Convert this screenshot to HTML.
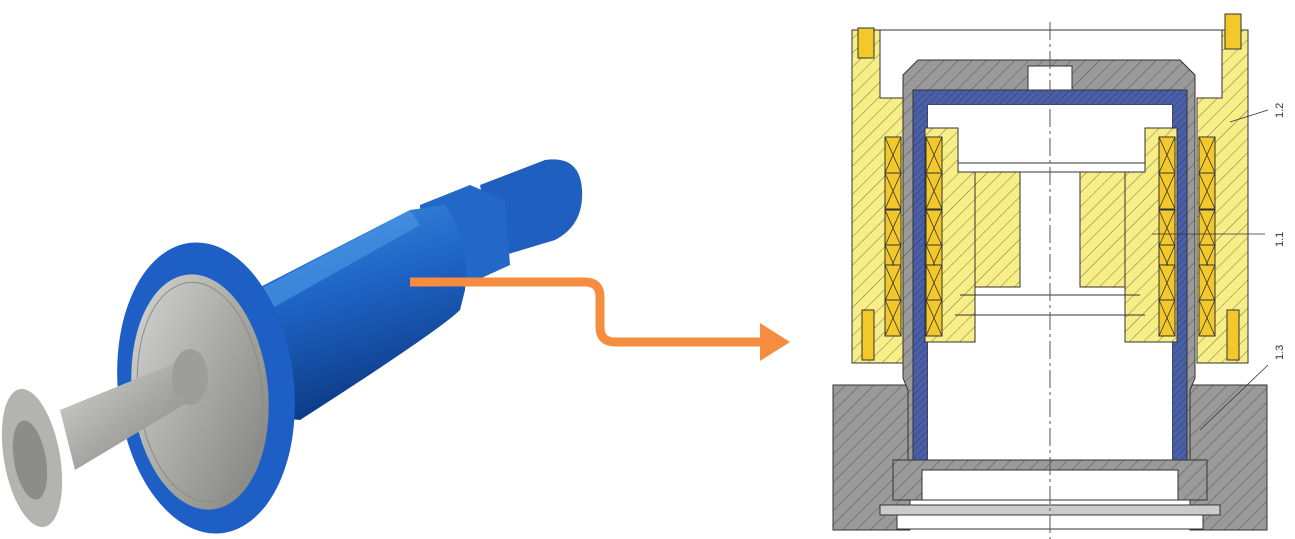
<!DOCTYPE html>
<html><head><meta charset="utf-8"><style>
html,body{margin:0;padding:0;background:#fff;width:1295px;height:539px;overflow:hidden}
svg{display:block}
</style></head><body>
<svg width="1295" height="539" viewBox="0 0 1295 539" xmlns="http://www.w3.org/2000/svg">
<defs>
<pattern id="hy" width="10" height="10" patternUnits="userSpaceOnUse" patternTransform="rotate(45)"><rect width="10" height="10" fill="#f7ee86"/><line x1="0" y1="0" x2="0" y2="10" stroke="#555" stroke-width="0.8"/></pattern>
<pattern id="hg" width="10" height="10" patternUnits="userSpaceOnUse" patternTransform="rotate(45)"><rect width="10" height="10" fill="#9a9a9a"/><line x1="0" y1="0" x2="0" y2="10" stroke="#444" stroke-width="0.8"/></pattern>
<pattern id="hb" width="5" height="5" patternUnits="userSpaceOnUse" patternTransform="rotate(45)"><rect width="5" height="5" fill="#4a5fa8"/><line x1="0" y1="0" x2="0" y2="5" stroke="#223" stroke-width="0.6"/></pattern>
<linearGradient id="bl" x1="0" y1="0" x2="0.3" y2="1"><stop offset="0" stop-color="#3d8ee0"/><stop offset="0.5" stop-color="#1e63c4"/><stop offset="1" stop-color="#0d3b86"/></linearGradient>
<linearGradient id="sv" x1="0" y1="0" x2="1" y2="1"><stop offset="0" stop-color="#d8d8d6"/><stop offset="0.5" stop-color="#a9a9a6"/><stop offset="1" stop-color="#7d7d7b"/></linearGradient>
<g id="coil"><rect width="16" height="36" fill="#f2c82a" stroke="#333" stroke-width="1"/><path d="M0 0L16 36M16 0L0 36" stroke="#333" stroke-width="0.8"/></g>
</defs>

<!-- Motor photo approximation -->
<g>
  <!-- small motor -->
  <path d="M480 185 L545 160 Q580 155 582 190 Q584 225 555 240 L495 258 Z" fill="#1f5fc0"/>
  <!-- gearbox -->
  <path d="M420 205 L470 185 L505 200 L510 265 L455 290 L420 275 Z" fill="#2368c9"/>
  <!-- main body -->
  <path d="M235 300 L410 210 L445 205 Q470 240 465 290 L460 310 Q440 330 300 420 L250 415 Z" fill="url(#bl)"/>
  <path d="M240 300 L410 210 L420 225 L260 315 Z" fill="#4f9ae6" opacity="0.6"/>
  <!-- flange -->
  <ellipse cx="206" cy="388" rx="88" ry="146" transform="rotate(-6 206 388)" fill="#1d5fc4"/>
  <ellipse cx="200" cy="392" rx="68" ry="118" transform="rotate(-6 200 392)" fill="url(#sv)"/>
  <ellipse cx="200" cy="392" rx="62" ry="110" transform="rotate(-6 200 392)" fill="none" stroke="#8a8a88" stroke-width="1"/>
  <!-- shaft -->
  <path d="M195 355 L60 410 L75 470 L200 395 Z" fill="url(#sv)"/>
  <ellipse cx="190" cy="377" rx="18" ry="28" fill="#9d9d9a"/>
  <ellipse cx="32" cy="458" rx="28" ry="70" transform="rotate(-10 32 458)" fill="#b3b3b0"/>
  <ellipse cx="30" cy="460" rx="16" ry="40" transform="rotate(-10 30 460)" fill="#8c8c89"/>
</g>

<!-- orange arrow -->
<path d="M410 282 L585 282 Q600 282 600 297 L600 327 Q600 342 615 342 L768 342" fill="none" stroke="#f68c3f" stroke-width="9"/>
<path d="M760 323 L790 342 L760 361 Z" fill="#f68c3f"/>

<!-- Cross-section drawing -->
<g stroke="#333" stroke-width="1">
  <!-- top line -->
  <line x1="880" y1="30" x2="1222" y2="30"/>
  <!-- yellow outer housings -->
  <path d="M852 30 L880 30 L880 98 L903 98 L903 363 L852 363 Z" fill="url(#hy)"/>
  <path d="M1222 30 L1248 30 L1248 363 L1197 363 L1197 98 L1222 98 Z" fill="url(#hy)"/>
  <rect x="858" y="28" width="16" height="30" fill="#f2c82a"/>
  <rect x="1225" y="14" width="16" height="35" fill="#f2c82a"/>
  <rect x="862" y="310" width="12" height="50" fill="#f2c82a"/>
  <rect x="1227" y="310" width="12" height="50" fill="#f2c82a"/>
  <!-- grey base -->
  <path d="M833 385 L910 385 L910 530 L833 530 Z" fill="url(#hg)"/>
  <path d="M1190 385 L1267 385 L1267 530 L1190 530 Z" fill="url(#hg)"/>
  <!-- grey tube + cap -->
  <path d="M918 60 L1180 60 L1195 75 L1195 378 L1190 390 L1190 478 L1182 478 L1182 90 L917 90 L917 478 L908 478 L908 390 L903 378 L903 75 Z" fill="url(#hg)"/>
  <rect x="1028" y="66" width="44" height="24" fill="#fff"/>
  <!-- blue liner -->
  <path d="M915 92 L1185 92 L1185 478 L1163 478 L1163 110 L1176 106 L1176 455 L1170 455 L1170 108 L928 108 L928 455 L922 455 L922 478 L915 478 Z" fill="url(#hb)"/>
  <path d="M913 90 L1187 90 L1187 478 L1172 478 L1172 105 L928 105 L928 478 L913 478 Z" fill="url(#hb)"/>
  <rect x="928" y="105" width="244" height="373" fill="#fff" stroke="none"/>
  <!-- inner rotor -->
  <path d="M925 128 L958 128 L958 165 L975 172 L975 342 L925 342 Z" fill="url(#hy)"/>
  <path d="M1177 128 L1145 128 L1145 165 L1125 172 L1125 342 L1177 342 Z" fill="url(#hy)"/>
  <rect x="975" y="172" width="45" height="115" fill="url(#hy)"/>
  <rect x="1080" y="172" width="45" height="115" fill="url(#hy)"/>
  <rect x="958" y="163" width="187" height="9" fill="#fff"/>
  <line x1="960" y1="295" x2="1140" y2="295"/>
  <line x1="955" y1="315" x2="1145" y2="315"/>
  <!-- bottom inner ring -->
  <path d="M893 460 L1207 460 L1207 500 L893 500 Z" fill="url(#hg)"/>
  <rect x="922" y="470" width="256" height="30" fill="#fff"/>
  <rect x="880" y="505" width="340" height="10" fill="#ccc"/>
  <rect x="897" y="515" width="306" height="14" fill="#fff"/>
</g>
<!-- coils -->
<g>
  <use href="#coil" x="885" y="137"/><use href="#coil" x="885" y="173"/><use href="#coil" x="885" y="210"/>
  <use href="#coil" x="885" y="245"/><use href="#coil" x="885" y="265"/><use href="#coil" x="885" y="300"/>
  <use href="#coil" x="926" y="137"/><use href="#coil" x="926" y="173"/><use href="#coil" x="926" y="210"/>
  <use href="#coil" x="926" y="245"/><use href="#coil" x="926" y="265"/><use href="#coil" x="926" y="300"/>
  <use href="#coil" x="1159" y="137"/><use href="#coil" x="1159" y="173"/><use href="#coil" x="1159" y="210"/>
  <use href="#coil" x="1159" y="245"/><use href="#coil" x="1159" y="265"/><use href="#coil" x="1159" y="300"/>
  <use href="#coil" x="1199" y="137"/><use href="#coil" x="1199" y="173"/><use href="#coil" x="1199" y="210"/>
  <use href="#coil" x="1199" y="245"/><use href="#coil" x="1199" y="265"/><use href="#coil" x="1199" y="300"/>
</g>
<!-- centerline -->
<line x1="1050" y1="22" x2="1050" y2="539" stroke="#555" stroke-width="1" stroke-dasharray="18 4 3 4"/>
<!-- labels -->
<g stroke="#333" stroke-width="0.8" fill="none">
  <line x1="1230" y1="122" x2="1268" y2="110"/>
  <line x1="1152" y1="234" x2="1265" y2="234"/>
  <line x1="1200" y1="430" x2="1268" y2="365"/>
</g>
<g font-family="Liberation Sans, sans-serif" font-size="11" fill="#333">
  <text transform="translate(1283 118) rotate(-90)">1.2</text>
  <text transform="translate(1283 247) rotate(-90)">1.1</text>
  <text transform="translate(1283 360) rotate(-90)">1.3</text>
</g>
</svg>
</body></html>
